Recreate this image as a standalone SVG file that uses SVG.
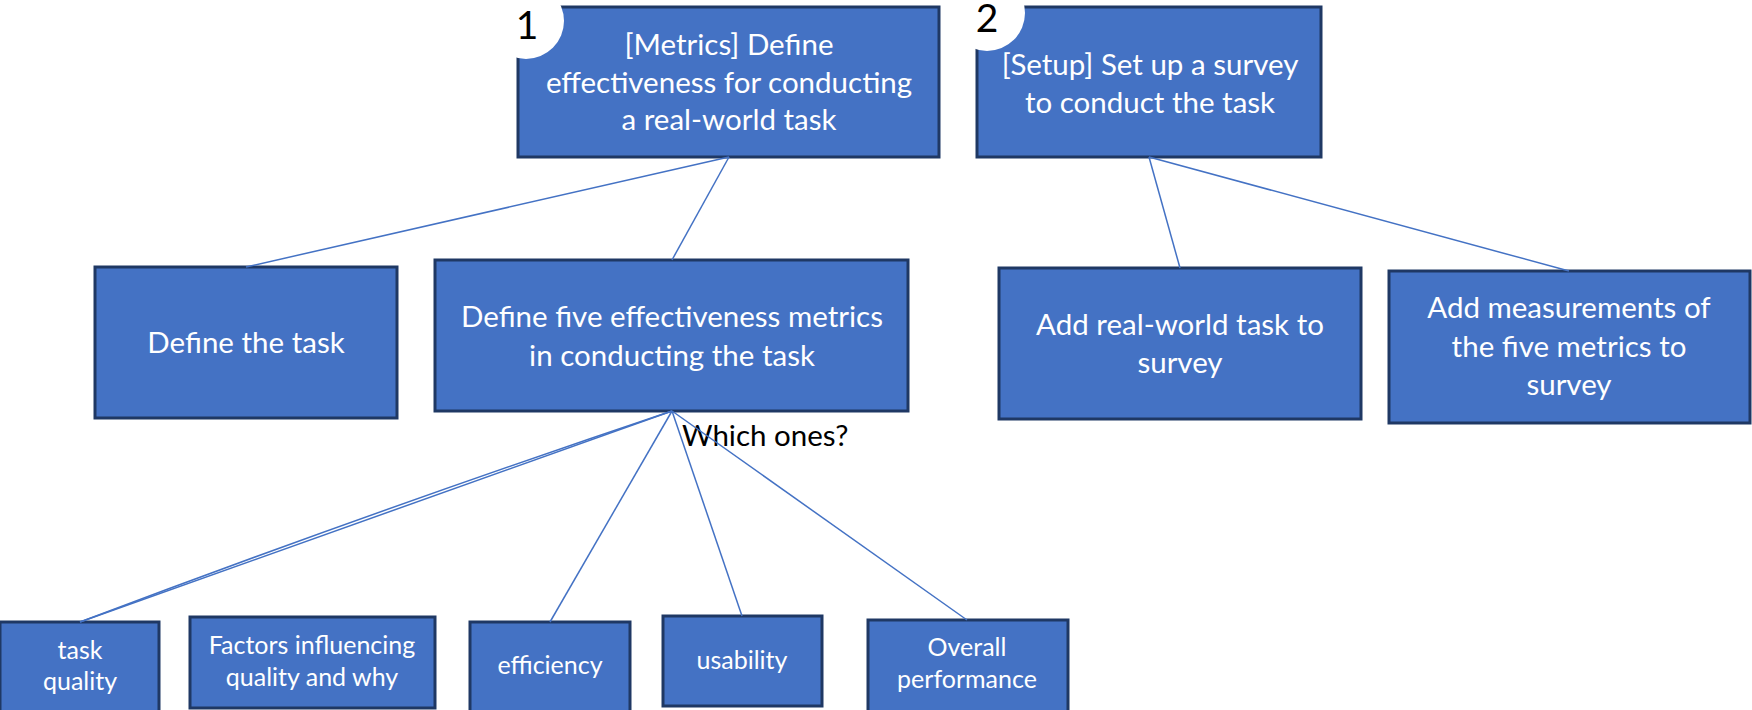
<svg xmlns="http://www.w3.org/2000/svg" width="1752" height="710" viewBox="0 0 1752 710">
<style>
.box{fill:#4472C4;stroke:#1F3864;stroke-width:3}
.t{font-family:Lato,"Open Sans","Liberation Sans",sans-serif;fill:#FFFFFF;text-anchor:middle;font-size:29.5px}
.s{font-family:Lato,"Open Sans","Liberation Sans",sans-serif;fill:#FFFFFF;text-anchor:middle;font-size:25px}
.num{font-family:Lato,"Open Sans","Liberation Sans",sans-serif;fill:#000000;text-anchor:middle;font-size:39px}
.lbl{font-family:Lato,"Open Sans","Liberation Sans",sans-serif;fill:#000000;font-size:29.5px}
.c{fill:none;stroke:#4472C4;stroke-width:1.5}
</style>
<rect width="1752" height="710" fill="#FFFFFF"/>

<g id="n1">
<rect class="box" x="518" y="7" width="421" height="150"/>
<circle cx="526" cy="21" r="38" fill="#FFFFFF"/>
<text class="num" x="527" y="39">1</text>
<text class="t" x="729" y="55">[Metrics] Define</text>
<text class="t" x="729" y="93">effectiveness for conducting</text>
<text class="t" x="729" y="130">a real-world task</text>
</g>

<g id="n2">
<rect class="box" x="977" y="7" width="344" height="150"/>
<circle cx="987" cy="13" r="38" fill="#FFFFFF"/>
<text class="num" x="987" y="32">2</text>
<text class="t" x="1150" y="75">[Setup] Set up a survey</text>
<text class="t" x="1150" y="113">to conduct the task</text>
</g>

<g id="n3">
<rect class="box" x="95" y="267" width="302" height="151"/>
<text class="t" x="246" y="353">Define the task</text>
</g>

<g id="n4">
<rect class="box" x="435" y="260" width="473" height="151"/>
<text class="t" x="672" y="327">Define five effectiveness metrics</text>
<text class="t" x="672" y="366">in conducting the task</text>
</g>

<g id="n5">
<rect class="box" x="999" y="268" width="362" height="151"/>
<text class="t" x="1180" y="335">Add real-world task to</text>
<text class="t" x="1180" y="373">survey</text>
</g>

<g id="n6">
<rect class="box" x="1389" y="271" width="361" height="152"/>
<text class="t" x="1569" y="318">Add measurements of</text>
<text class="t" x="1569" y="357">the five metrics to</text>
<text class="t" x="1569" y="395">survey</text>
</g>

<g id="n7">
<rect class="box" x="0" y="622" width="159" height="100"/>
<text class="s" x="80" y="659">task</text>
<text class="s" x="80" y="690">quality</text>
</g>

<g id="n8">
<rect class="box" x="190" y="617" width="245" height="91"/>
<text class="s" x="312" y="654">Factors influencing</text>
<text class="s" x="312" y="686">quality and why</text>
</g>

<g id="n9">
<rect class="box" x="470" y="622" width="160" height="100"/>
<text class="s" x="550" y="674">efficiency</text>
</g>

<g id="n10">
<rect class="box" x="663" y="616" width="159" height="90"/>
<text class="s" x="742" y="669">usability</text>
</g>

<g id="n11">
<rect class="box" x="868" y="620" width="200" height="100"/>
<text class="s" x="967" y="656">Overall</text>
<text class="s" x="967" y="688">performance</text>
</g>

<g id="label">
<text class="lbl" x="682" y="446">Which ones?</text>
</g>

<g id="connectors">
<line class="c" x1="729" y1="157" x2="246" y2="267"/>
<line class="c" x1="729" y1="157" x2="672" y2="260"/>
<line class="c" x1="1149" y1="157" x2="1180" y2="268"/>
<line class="c" x1="1149" y1="157" x2="1569" y2="271"/>
<line class="c" x1="672" y1="411" x2="80" y2="622"/>
<path class="c" d="M672,411 Q374,511 80,622"/>
<line class="c" x1="672" y1="411" x2="550" y2="622"/>
<line class="c" x1="672" y1="411" x2="742" y2="616"/>
<line class="c" x1="672" y1="411" x2="967" y2="620"/>
</g>
</svg>
